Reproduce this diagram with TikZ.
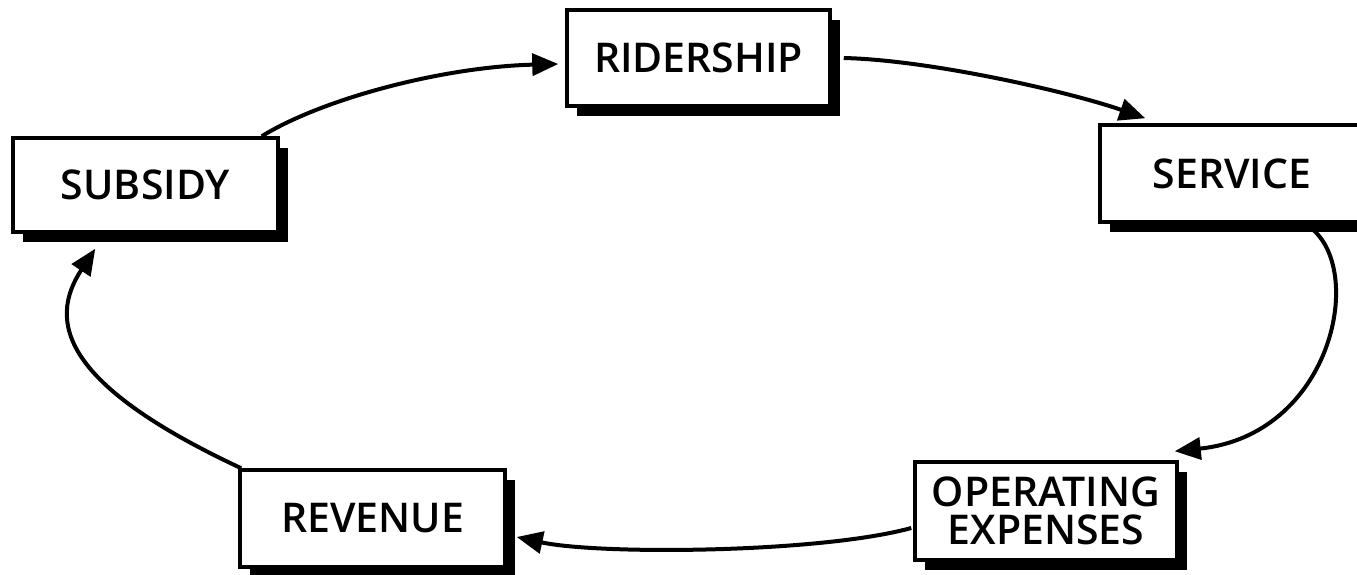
\documentclass[tikz,border=0pt]{standalone}
\usepackage{fontspec}
\setmainfont{Open Sans}[BoldFont={Open Sans Semibold}]
\usetikzlibrary{arrows.meta,shadows}
\begin{document}
\begin{tikzpicture}[x=1pt,y=-1pt,
  box/.style={draw,line width=3.5pt,fill=white,inner sep=0pt,align=center,
    font=\fontsize{41}{38}\selectfont\bfseries,
    drop shadow={shadow xshift=10pt,shadow yshift=-10pt,fill=black,opacity=1}},
  conn/.style={line width=4pt,-{Triangle[length=26pt,width=22pt]}}]
\useasboundingbox (0,0) rectangle (1357,574);
\node[box,minimum width=263pt,minimum height=96pt] (rid) at (698.5,58) {RIDERSHIP};
\node[box,minimum width=265pt,minimum height=94pt] (sub) at (145.5,185) {SUBSIDY};
\node[box,minimum width=264pt,minimum height=97pt] (ser) at (1232,173.5) {SERVICE};
\node[box,minimum width=262pt,minimum height=98pt] (ope) at (1046,511) {OPERATING\\EXPENSES};
\node[box,minimum width=265pt,minimum height=97pt] (rev) at (372.5,518.5) {REVENUE};
\draw[conn] ([xshift=-18pt]sub.north east) .. controls (320,100) and (440,67) .. ([xshift=-7pt,yshift=-6pt]rid.west);
\draw[conn] ([xshift=12pt]rid.east) .. controls (930,60) and (1070,92) .. ([xshift=47pt,yshift=5pt]ser.north west);
\draw[conn] ([xshift=81pt,yshift=-6pt]ser.south) .. controls (1365,275) and (1330,435) .. ([xshift=-4pt,yshift=9pt]ope.north east);
\draw[conn] ([xshift=-2pt,yshift=-17pt]ope.west) .. controls (820,553) and (600,555) .. ([xshift=10pt,yshift=-18.5pt]rev.east);
\draw[conn] ([xshift=3pt]rev.north west) .. controls (63,385) and (47,322) .. ([xshift=84pt,yshift=-15pt]sub.south west);
\end{tikzpicture}
\end{document}
